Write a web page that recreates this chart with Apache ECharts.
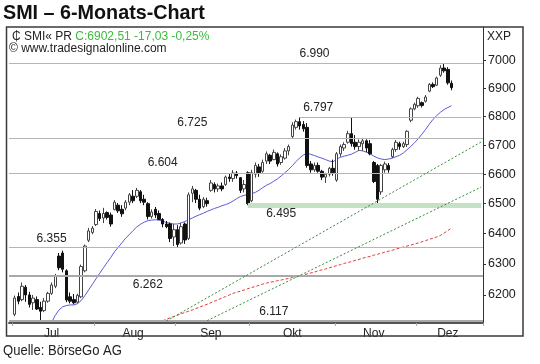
<!DOCTYPE html>
<html><head><meta charset="utf-8">
<script src="https://cdn.jsdelivr.net/npm/echarts@6/dist/echarts.min.js"></script>
<style>html,body{margin:0;padding:0;background:#fff}#c{width:540px;height:364px}</style>
</head><body><div id="c"></div>
<script>
// ---- data ----
const monthNames = ['Jul','Aug','Sep','Okt','Nov','Dez'];
const monthSlots = [22,22,20,23,22,18];   // trading-day slots per month (Dez incl. future slots)
// [open, close, low, high] for bars 1..119
const ohlc = [
[6138,6190,6132,6198],[6195,6180,6170,6208],[6185,6228,6180,6240],[6225,6200,6178,6232],[6200,6170,6160,6210],
[6175,6190,6152,6200],[6185,6155,6152,6195],[6160,6148,6117,6178],[6150,6180,6145,6190],[6180,6205,6175,6210],
[6205,6232,6200,6240],[6228,6262,6222,6268],[6326,6288,6280,6336],[6336,6283,6273,6344],[6278,6184,6177,6283],
[6194,6180,6173,6208],[6185,6175,6170,6203],[6177,6199,6173,6204],[6194,6292,6190,6298],[6278,6359,6273,6364],
[6378,6409,6372,6419],[6404,6418,6398,6425],[6430,6474,6425,6482],[6467,6450,6442,6477],[6452,6467,6435,6486],
[6470,6454,6447,6474],[6462,6432,6423,6470],[6480,6505,6478,6512],[6495,6476,6469,6502],[6481,6466,6456,6495],
[6485,6505,6478,6512],[6505,6530,6495,6536],[6525,6510,6502,6546],[6525,6545,6519,6553],[6540,6510,6502,6546],
[6515,6505,6495,6530],[6500,6457,6447,6505],[6457,6472,6450,6481],[6481,6462,6452,6489],[6467,6447,6445,6477],
[6447,6432,6421,6452],[6432,6423,6418,6442],[6432,6384,6372,6437],[6389,6413,6359,6432],[6413,6364,6355,6428],
[6369,6423,6364,6435],[6432,6379,6366,6437],[6384,6530,6379,6538],[6535,6550,6505,6560],[6545,6515,6502,6550],
[6515,6485,6478,6530],[6490,6515,6485,6522],[6510,6500,6490,6520],[6545,6570,6540,6580],[6565,6550,6538,6572],
[6550,6560,6540,6568],[6560,6550,6542,6572],[6565,6590,6560,6595],[6590,6585,6574,6602],[6585,6604,6574,6614],
[6604,6595,6585,6611],[6588,6545,6536,6590],[6550,6565,6538,6580],[6605,6500,6495,6610],[6510,6605,6505,6615],
[6600,6630,6588,6640],[6625,6605,6591,6635],[6610,6640,6605,6650],[6645,6670,6635,6678],[6665,6645,6635,6670],
[6650,6675,6648,6685],[6670,6635,6626,6675],[6640,6660,6632,6668],[6655,6680,6650,6690],[6680,6695,6665,6702],
[6730,6770,6725,6780],[6762,6782,6754,6789],[6782,6767,6754,6797],[6772,6757,6747,6784],[6762,6630,6622,6777],
[6635,6615,6605,6645],[6615,6630,6608,6640],[6630,6610,6605,6640],[6610,6590,6580,6615],[6590,6600,6570,6605],
[6600,6620,6592,6625],[6620,6605,6595,6650],[6580,6670,6574,6676],[6670,6695,6660,6702],[6690,6702,6680,6710],
[6710,6740,6705,6750],[6740,6705,6695,6797],[6710,6695,6684,6735],[6695,6710,6680,6720],[6705,6715,6680,6725],
[6715,6690,6675,6720],[6705,6670,6665,6718],[6640,6575,6570,6645],[6630,6515,6495,6635],[6540,6630,6530,6635],
[6615,6635,6605,6643],[6630,6615,6605,6638],[6660,6685,6656,6691],[6685,6710,6677,6718],[6705,6695,6684,6712],
[6695,6705,6690,6712],[6702,6748,6694,6752],[6787,6827,6780,6832],[6827,6843,6822,6849],[6838,6864,6831,6870],
[6849,6839,6832,6853],[6854,6869,6849,6876],[6890,6914,6886,6919],[6914,6906,6901,6921],[6911,6937,6908,6942],
[6947,6973,6941,6983],[6973,6963,6956,6990],[6968,6919.54,6913,6976],[6918,6902.51,6893,6928]
];
const maBlueFirstBar = 11;
const maBlue = [6112,6135,6152,6162,6166,6168,6168,6172,6182,6198,6216,6234,6252,6270,6288,6305,6322,6340,6355,6370,
6385,6397,6410,6422,6431,6438,6443,6445,6446,6445,6441,6437,6434,6432,6432,6436,6440,6446,6452,6458,
6463,6468,6474,6479,6484,6488,6493,6497,6502,6509,6517,6524,6528,6531,6534,6538,6545,6554,6562,6568,
6576,6584,6594,6605,6616,6629,6643,6656,6666,6672,6668,6664,6659,6655,6650,6645,6642,6652,6658,6662,
6665,6669,6675,6682,6680,6676,6670,6662,6656,6652,6650,6652,6655,6660,6665,6673,6684,6696,6708,6722,
6738,6755,6773,6790,6803,6815,6825,6832,6838];
const maRedFirstBar = 41;
const maRed = [6118,6122,6127,6131,6135,6140,6144,6148,6152,6157,6161,6166,6170,6175,6180,6185,6190,6195,6200,6205,
6209,6212,6216,6220,6224,6227,6231,6235,6238,6241,6243,6246,6248,6251,6253,6256,6258,6261,6264,6268,
6271,6274,6278,6281,6284,6288,6291,6295,6298,6302,6305,6308,6312,6315,6319,6322,6325,6329,6332,6335,
6339,6342,6345,6349,6352,6356,6359,6362,6366,6369,6373,6377,6381,6385,6389,6394,6402,6410,6419];
const yTicks = [6200,6300,6400,6500,6600,6700,6800,6900,7000];
const levelsFull = [6990,6725,6604,6355];
const levelsStrong = [6262,6117];
const level6797 = {from:78, value:6797};
const band6495 = {from:64, value:6495};
const trendUpper = [[42,6117],[127,6711]];
const trendLower = [[53,6118],[127,6556]];
const levelLabels = [[6990,82],[6797,83],[6725,49],[6604,41],[6495,73],[6355,11],[6262,37],[6117,71]];
const lastQuote = 'C:6902,51 -17,03 -0,25%';

// ---- build ----
const FONT = '"Liberation Sans", Arial, sans-serif';
const categories = [''];
const monthStart = [], monthMid = [];
monthNames.forEach((m,k)=>{
  const s = categories.length; monthStart.push(s); monthMid.push(s + Math.floor((monthSlots[k]-1)/2));
  for (let d=1; d<=monthSlots[k]; d++) categories.push(m+' '+d);
});
const candleData = ['-'].concat(ohlc);
const blueData = new Array(maBlueFirstBar).fill('-').concat(maBlue);
const redData = new Array(maRedFirstBar).fill('-').concat(maRed);
const fmt = v => String(v).replace(/(\d)(\d{3})$/, '$1.$2');
const labelOffset = {6990:[0,-10],6797:[0,-10],6725:[0,-15],6604:[0,-10],6495:[0,9],6355:[0,-9],6262:[0,9],6117:[0,-9]};

const markLineData = [];
levelsFull.forEach(v=>markLineData.push({yAxis:v, lineStyle:{color:'#b5b5b5', width:1, type:'solid'}}));
levelsStrong.forEach(v=>markLineData.push({yAxis:v, lineStyle:{color:'#a9a9a9', width:2, type:'solid'}}));
markLineData.push([{coord:[level6797.from, level6797.value], lineStyle:{color:'#b5b5b5', width:1, type:'solid'}},{coord:[categories.length-1, level6797.value]}]);
markLineData.push([{coord:[band6495.from, band6495.value], lineStyle:{color:'#c3e2c3', width:5, type:'solid'}},{coord:[categories.length-1, band6495.value]}]);
[trendUpper, trendLower].forEach(t=>markLineData.push([{coord:t[0], lineStyle:{color:'#3a8a3a', width:1, type:[2,2]}},{coord:t[1]}]));

const chart = echarts.init(document.getElementById('c'), null, {renderer:'canvas'});
chart.setOption({
  animation:false,
  backgroundColor:'#fff',
  grid:{left:9, right:57, top:27, bottom:41, containLabel:false, outerBoundsMode:'none'},
  xAxis:{type:'category', data:categories, boundaryGap:true,
    axisLine:{show:true, lineStyle:{color:'#555', width:2}},
    axisTick:{show:true, interval:(i)=>monthStart.includes(i), length:3, lineStyle:{color:'#aaa'}},
    axisLabel:{interval:(i)=>monthMid.includes(i), formatter:v=>v.split(' ')[0], color:'#222', fontSize:12, fontFamily:FONT, margin:5},
    splitLine:{show:false}},
  yAxis:{type:'log', logBase:10, position:'right', min:6110.6, max:7122.6, scale:true,
    axisLine:{show:true, lineStyle:{color:'#333', width:1}},
    axisTick:{show:true, inside:false, length:3, customValues:yTicks, lineStyle:{color:'#333'}},
    axisLabel:{customValues:yTicks, formatter:v=>String(Math.round(v)), color:'#222', fontSize:12.5, fontFamily:FONT, margin:5},
    splitLine:{show:false}, minorTick:{show:false}, minorSplitLine:{show:false}},
  series:[
    {type:'line', name:'levels', data:[], z:1, silent:true,
      markLine:{silent:true, symbol:['none','none'], label:{show:false}, animation:false, data:markLineData},
      markPoint:{silent:true, symbol:'circle', symbolSize:1, itemStyle:{color:'rgba(0,0,0,0)'},
        label:{show:true, position:'inside', color:'#222', fontSize:12, fontFamily:FONT, formatter:p=>p.name},
        data: levelLabels.map(([v,c])=>({name:fmt(v), coord:[c,v], label:{offset:labelOffset[v]}}))}},
    {type:'line', name:'MA blue', data:blueData, showSymbol:false, z:2, silent:true,
      lineStyle:{color:'#5a5ad8', width:1}},
    {type:'line', name:'MA red', data:redData, showSymbol:false, z:2, silent:true,
      lineStyle:{color:'#e23a3a', width:1, type:[3,2]}},
    {type:'candlestick', name:'SMI', data:candleData, barWidth:3, z:3, silent:true,
      itemStyle:{color:'#ffffff', color0:'#111', borderColor:'#444', borderColor0:'#111', borderWidth:1}}
  ],
  graphic:[
    {type:'text', left:3, top:3, z:200, style:{text:'SMI – 6-Monats-Chart', font:'bold 21px '+FONT, fill:'#111'}, scaleX:0.94},
    {type:'rect', z:200, shape:{x:6.5, y:27, width:516.5, height:309}, style:{fill:'none', stroke:'#3a3a3a', lineWidth:1.5}},
    {type:'text', z:200, x:12, y:31, style:{text:'{a|₵ SMI« PR} {g|'+lastQuote+'}', font:'12px '+FONT,
      rich:{a:{fill:'#222', font:'12px '+FONT}, g:{fill:'#3cba3c', font:'12px '+FONT}}}},
    {type:'text', z:200, x:9, y:43, style:{text:'© www.tradesignalonline.com', font:'12px '+FONT, fill:'#222'}},
    {type:'text', z:200, x:487, y:31, style:{text:'XXP', font:'12px '+FONT, fill:'#222'}},
    {type:'text', z:200, x:3, y:343, style:{text:'Quelle: BörseGo AG', font:'15px '+FONT, fill:'#222'}, scaleX:0.87}
  ]
});
</script></body></html>
